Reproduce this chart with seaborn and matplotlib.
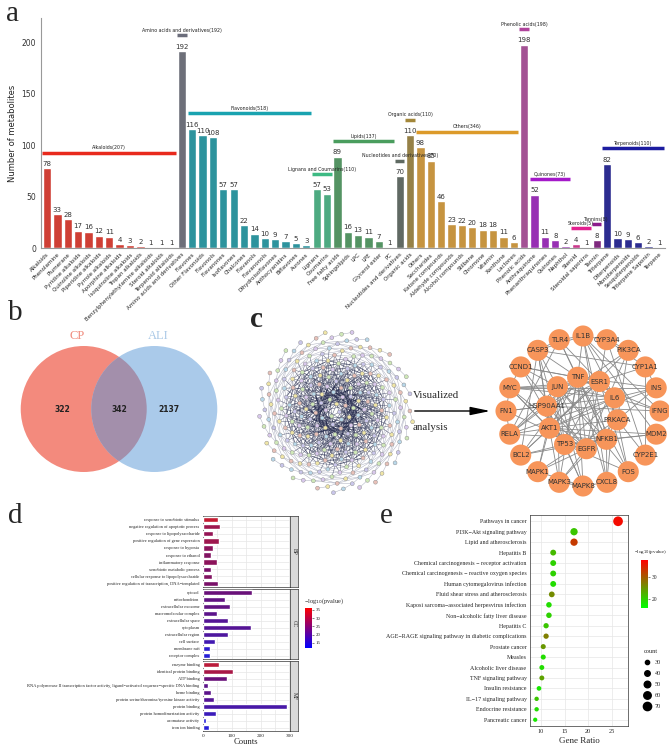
import numpy as np
import pandas as pd
import matplotlib
matplotlib.use('Agg')
import matplotlib.pyplot as plt
import seaborn as sns
from matplotlib.colors import LinearSegmentedColormap, Normalize
from matplotlib.cm import ScalarMappable
from matplotlib.patches import Circle
from matplotlib.lines import Line2D
from matplotlib.collections import LineCollection

# ---------------- data: panel a (metabolite classes)
class_names = ['Alkaloids', 'Amino acids and derivatives', 'Flavonoids', 'Lignans and Coumarins',
               'Lipids', 'Nucleotides and derivatives', 'Organic acids', 'Others',
               'Phenolic acids', 'Quinones', 'Steroids', 'Tannins', 'Terpenoids']
class_colors = ['#e8291c', '#6b6d7b', '#1aa3b0', '#3dba83', '#4a9d5e', '#5f6a62', '#a3873a',
                '#dc9a2a', '#b0449c', '#a419c9', '#e2218f', '#8c1b8c', '#1c1ca0']
sub_names = [
    ['Alkaloids', 'Phenolamine', 'Plumerane', 'Pyridine alkaloids', 'Quinoline alkaloids',
     'Piperidine alkaloids', 'Pyrrole alkaloids', 'Aporphine alkaloids', 'Isoquinoline alkaloids',
     'Tropan alkaloids', 'Benzylphenylethylamine alkaloids', 'Steroid alkaloids', 'Terpenoid alkaloids'],
    ['Amino acids and derivatives'],
    ['Flavones', 'Other Flavonoids', 'Flavonols', 'Flavanones', 'Isoflavones', 'Chalcones',
     'Flavanols', 'Flavanonols', 'Dihydroisoflavones', 'Anthocyanidins', 'Biflavones', 'Aurones'],
    ['Lignans', 'Coumarins'],
    ['Free fatty acids', 'Sphingolipids', 'LPC', 'LPE', 'Glycerol ester', 'PC'],
    ['Nucleotides and derivatives'],
    ['Organic acids'],
    ['Others', 'Saccharides', 'Ketone compounds', 'Aldehyde compounds', 'Alcohol compounds',
     'Stilbene', 'Chromone', 'Vitamin', 'Xanthone', 'Lactones'],
    ['Phenolic acids'],
    ['Anthraquinone', 'Phenanthraquinones', 'Quinones', 'Naphthol'],
    ['Steroid', 'Steroidal saponins'],
    ['Tannin'],
    ['Triterpene', 'Diterpenoids', 'Monoterpenoids', 'Sesquiterpenoids', 'Triterpene Saponin', 'Terpene'],
]
sub_counts = [
    [78, 33, 28, 17, 16, 12, 11, 4, 3, 2, 1, 1, 1],
    [192],
    [116, 110, 108, 57, 57, 22, 14, 10, 9, 7, 5, 3],
    [57, 53],
    [89, 16, 13, 11, 7, 1],
    [70],
    [110],
    [98, 85, 46, 23, 22, 20, 18, 18, 11, 6],
    [198],
    [52, 11, 8, 2],
    [4, 1],
    [8],
    [82, 10, 9, 6, 2, 1],
]
class_totals = [207, 192, 518, 110, 137, 70, 110, 346, 198, 73, 5, 8, 110]

# ---------------- data: panel b (Venn)
venn_sets = ['CP', 'ALI']
venn_counts = [322, 342, 2137]

# ---------------- data: panel c (hub genes)
outer_genes = ['IL1B', 'CYP3A4', 'PIK3CA', 'CYP1A1', 'INS', 'IFNG', 'MDM2', 'CYP2E1', 'FOS', 'CXCL8',
               'MAPK8', 'MAPK3', 'MAPK1', 'BCL2', 'RELA', 'FN1', 'MYC', 'CCND1', 'CASP3', 'TLR4']
inner_genes = ['TNF', 'ESR1', 'IL6', 'PRKACA', 'NFKB1', 'EGFR', 'TP53', 'AKT1', 'HSP90AA1', 'JUN']
gene_links = {
    'TNF': ['IL6', 'AKT1', 'JUN', 'EGFR', 'TP53', 'NFKB1', 'IL1B', 'TLR4', 'CASP3', 'MAPK8', 'RELA',
            'IFNG', 'CXCL8', 'FOS', 'BCL2', 'INS', 'MAPK3', 'CCND1'],
    'ESR1': ['AKT1', 'EGFR', 'TP53', 'JUN', 'MYC', 'CCND1', 'FOS', 'HSP90AA1', 'CYP1A1', 'CYP3A4', 'BCL2'],
    'IL6': ['AKT1', 'JUN', 'TP53', 'IL1B', 'CXCL8', 'IFNG', 'TLR4', 'RELA', 'NFKB1', 'INS', 'MYC', 'FN1'],
    'PRKACA': ['AKT1', 'MAPK1', 'MAPK3', 'PIK3CA', 'FOS', 'CYP2E1', 'INS'],
    'NFKB1': ['RELA', 'IL1B', 'TLR4', 'BCL2', 'CXCL8', 'JUN', 'TP53', 'AKT1', 'MDM2'],
    'EGFR': ['AKT1', 'PIK3CA', 'MAPK1', 'MAPK3', 'TP53', 'MYC', 'HSP90AA1', 'FN1', 'CCND1', 'JUN'],
    'TP53': ['MDM2', 'BCL2', 'CASP3', 'MYC', 'CCND1', 'AKT1', 'JUN', 'HSP90AA1', 'MAPK8', 'FOS'],
    'AKT1': ['PIK3CA', 'MAPK1', 'MAPK3', 'HSP90AA1', 'CASP3', 'BCL2', 'MDM2', 'INS', 'RELA', 'MYC'],
    'HSP90AA1': ['PIK3CA', 'CASP3', 'FN1', 'RELA', 'IFNG', 'MAPK8'],
    'JUN': ['FOS', 'MAPK8', 'MAPK1', 'MAPK3', 'MYC', 'CCND1', 'CASP3', 'RELA'],
    'IL1B': ['TLR4', 'CXCL8', 'IFNG', 'CASP3', 'CYP3A4', 'MDM2'],
    'CYP3A4': ['CYP1A1', 'CYP2E1', 'PIK3CA'],
    'CYP1A1': ['CYP2E1', 'INS', 'CASP3'],
    'MAPK8': ['MAPK3', 'MAPK1', 'CXCL8'],
    'MYC': ['CCND1', 'FN1', 'INS'],
    'CASP3': ['BCL2', 'TLR4'],
    'RELA': ['TLR4', 'FN1'],
}

# ---------------- data: panel d (GO enrichment)
go_bp = ['response to xenobiotic stimulus', 'negative regulation of apoptotic process',
         'response to lipopolysaccharide', 'positive regulation of gene expression', 'response to hypoxia',
         'response to ethanol', 'inflammatory response', 'xenobiotic metabolic process',
         'cellular response to lipopolysaccharide', 'positive regulation of transcription, DNA\u2212templated']
go_bp_counts = [52, 59, 35, 54, 35, 29, 48, 27, 31, 53]
go_bp_logp = [33, 29, 28, 29, 27, 26, 27, 25, 26, 25]
go_cc = ['cytosol', 'mitochondrion', 'extracellular exosome', 'macromolecular complex',
         'extracellular space', 'cytoplasm', 'extracellular region', 'cell surface', 'membrane raft',
         'receptor complex']
go_cc_counts = [171, 76, 95, 50, 86, 165, 86, 43, 25, 23]
go_cc_logp = [23, 22, 22, 21, 20, 20, 19, 17, 14, 13]
go_mf = ['enzyme binding', 'identical protein binding', 'ATP binding',
         'RNA polymerase II transcription factor activity, ligand\u2212activated sequence\u2212specific DNA binding',
         'heme binding', 'protein serine/threonine/tyrosine kinase activity', 'protein binding',
         'protein homodimerization activity', 'aromatase activity', 'iron ion binding']
go_mf_counts = [55, 105, 82, 18, 27, 38, 290, 45, 12, 20]
go_mf_logp = [32, 30, 23, 21, 21, 20, 18, 16, 13, 13]

# ---------------- data: panel e (KEGG enrichment)
kegg_terms = ['Pathways in cancer', 'PI3K\u2212Akt signaling pathway', 'Lipid and atherosclerosis',
              'Hepatitis B', 'Chemical carcinogenesis \u2212 receptor activation',
              'Chemical carcinogenesis \u2212 reactive oxygen species', 'Human cytomegalovirus infection',
              'Fluid shear stress and atherosclerosis', 'Kaposi sarcoma\u2212associated herpesvirus infection',
              'Non\u2212alcoholic fatty liver disease', 'Hepatitis C',
              'AGE\u2212RAGE signaling pathway in diabetic complications', 'Prostate cancer', 'Measles',
              'Alcoholic liver disease', 'TNF signaling pathway', 'Insulin resistance',
              'IL\u221217 signaling pathway', 'Endocrine resistance', 'Pancreatic cancer']
kegg_ratio = [26.3, 17.0, 17.0, 12.6, 12.6, 12.6, 12.6, 12.3, 11.7, 11.7, 11.1, 11.1, 10.5, 10.5,
              10.2, 10.2, 9.6, 9.1, 9.1, 8.8]
kegg_count = [90, 58, 58, 43, 43, 43, 43, 42, 40, 40, 38, 38, 36, 36, 35, 35, 33, 31, 31, 30]
kegg_logp = [37, 21, 33, 22, 20, 20, 19, 26, 19, 20, 21, 27, 25, 19, 19, 24, 18, 21, 19, 18]

# ---------------- figure
W, H = 669, 747
sns.set_style('white')
plt.rcParams['font.family'] = ['DejaVu Sans']
SERIF = 'Liberation Serif'

fig = plt.figure(figsize=(W / 100, H / 100), dpi=100)


def box(x0, y0, x1, y1):
    return [x0 / W, 1 - y1 / H, (x1 - x0) / W, (y1 - y0) / H]


def panel_label(x, y, s, weight='normal'):
    fig.text(x / W, 1 - y / H, s, family=SERIF, fontsize=21, va='top', ha='left', fontweight=weight)


# ---------------- panel a
rows = []
for cname, names, counts in zip(class_names, sub_names, sub_counts):
    for n, c in zip(names, counts):
        rows.append((n, c, cname))
df_a = pd.DataFrame(rows, columns=['name', 'count', 'cls'])

ax = fig.add_axes(box(41, 18, 665, 248))
sns.barplot(data=df_a, x='name', y='count', hue='cls', order=list(df_a['name']),
            palette=dict(zip(class_names, class_colors)), dodge=False, legend=False,
            width=0.8, ax=ax)
ax.set_xlim(-0.58, len(df_a) - 0.42)
ax.set_ylim(0, 224)
ax.set_yticks([0, 50, 100, 150, 200])
ax.tick_params(axis='y', labelsize=5.5, length=2, color='#999999', labelcolor='#333333', pad=1.5)
ax.tick_params(axis='x', labelsize=4.0, length=2, color='#999999', labelcolor='#222222', pad=1)
ax.set_xticks(range(len(df_a)))
ax.set_xticklabels(df_a['name'], rotation=45, ha='right', rotation_mode='anchor')
ax.set_xlabel('')
ax.set_ylabel('Number of metabolites', fontsize=6, color='#222222', labelpad=3)
for s in ['top', 'right']:
    ax.spines[s].set_visible(False)
for s in ['left', 'bottom']:
    ax.spines[s].set_color('#999999')
    ax.spines[s].set_linewidth(0.8)
for i, c in enumerate(df_a['count']):
    ax.text(i, c + 1.2, str(c), ha='center', va='bottom', fontsize=5, color='#333333')

start = 0
for cname, names, counts, tot, col in zip(class_names, sub_names, sub_counts, class_totals, class_colors):
    end = start + len(names) - 1
    yl = max(counts) + 15
    ax.hlines(yl, start - 0.45, end + 0.45, color=col, lw=2.5)
    ax.text((start + end) / 2, yl + 2.5, f'{cname}({tot})', ha='center', va='bottom',
            fontsize=3.4, color='#222222')
    start = end + 1

panel_label(6, 1, 'a')

# ---------------- panel b: Venn
axb = fig.add_axes(box(0, 320, 240, 490))
axb.set_xlim(-119 / 63, 121 / 63)
axb.set_ylim(-81 / 63, 89 / 63)
axb.axis('off')
cp = Circle((-0.56, 0), 1.0, facecolor='#f38a7d', edgecolor='none')
ali = Circle((0.56, 0), 1.0, facecolor='#aacaea', edgecolor='none')
axb.add_patch(cp)
axb.add_patch(ali)
inter = Circle((0.56, 0), 1.0, facecolor='#a38fab', edgecolor='none')
axb.add_patch(inter)
inter.set_clip_path(cp)
axb.text(-0.67, 1.16, venn_sets[0], color='#f08a7c', family=SERIF, fontsize=9, ha='center', va='center')
axb.text(0.63, 1.16, venn_sets[1], color='#a9c8e6', family=SERIF, fontsize=9, ha='center', va='center')
for xv, v in zip([-0.9, 0.0, 0.79], venn_counts):
    axb.text(xv, 0, str(v), fontsize=5.5, fontweight='bold', ha='center', va='center', color='#222222')
panel_label(8, 300, 'b')

# ---------------- panel c: networks
axc = fig.add_axes(box(240, 300, 669, 500))
axc.set_xlim(240, 669)
axc.set_ylim(500, 300)
axc.axis('off')

# left: overview network (sunflower layout, index-neighbour edges)
n_hair = 260
idx = np.arange(n_hair)
ang = idx * 2.39996
rad = 78 * np.sqrt((idx + 0.5) / n_hair)
hx = 336 + rad * np.cos(ang)
hy = 412 + rad * np.sin(ang) * 1.05
core, outer = [], []
for i in range(n_hair):
    steps = (1, 5, 8, 13, 21, 34, 55) if i < 110 else ((8, 13, 21) if i < 200 else (21,))
    for k in steps:
        j = i + k
        if j < n_hair:
            (core if i < 110 else outer).append([(hx[i], hy[i]), (hx[j], hy[j])])
axc.add_collection(LineCollection(outer, colors='#5a6080', linewidths=0.35, alpha=0.5))
axc.add_collection(LineCollection(core, colors='#1e2448', linewidths=0.4, alpha=0.65))
node_cols = ['#c9c6ea', '#cfe8b8', '#efe5a6', '#b9d8ea', '#d8c8ec', '#e8c0b8']
sns.scatterplot(x=hx, y=hy, hue=idx % 6, palette=node_cols, s=8, edgecolor='#888888',
                linewidth=0.3, legend=False, ax=axc, zorder=3)

axc.annotate('', xy=(493, 411), xytext=(412, 411),
             arrowprops=dict(arrowstyle='-|>,head_length=1.2,head_width=0.25', color='black', lw=1.0))
axc.text(413, 400, 'Visualized', family=SERIF, fontsize=7.8, ha='left', va='bottom')
axc.text(413, 423, 'analysis', family=SERIF, fontsize=7.8, ha='left', va='top')

# right: hub genes network
pos = {}
for i, g in enumerate(outer_genes):
    a = np.deg2rad(90 - i * 360 / len(outer_genes))
    pos[g] = (583 + 77 * np.cos(a), 411 - 75 * np.sin(a))
for i, g in enumerate(inner_genes):
    a = np.deg2rad(97 - i * 360 / len(inner_genes))
    pos[g] = (582 + 36 * np.cos(a), 413 - 36 * np.sin(a))
hub_segs = [[pos[a], pos[b]] for a, lst in gene_links.items() for b in lst]
axc.add_collection(LineCollection(hub_segs, colors='#8a8a8a', linewidths=0.6, zorder=2))
genes = outer_genes + inner_genes
sns.scatterplot(x=[pos[g][0] for g in genes], y=[pos[g][1] for g in genes], s=230,
                color='#f7955a', edgecolor='none', legend=False, ax=axc, zorder=4)
for g in genes:
    axc.text(pos[g][0], pos[g][1], g, fontsize=5.0, ha='center', va='center', color='#333333', zorder=5)
panel_label(250, 306, 'c', 'bold')

# ---------------- panel d: GO bars
cmap_d = LinearSegmentedColormap.from_list('bluered', ['#0000ff', '#ff0000'])
norm_d = Normalize(vmin=12, vmax=36)
facets = [('BP', go_bp, go_bp_counts, go_bp_logp, 516, 587),
          ('CC', go_cc, go_cc_counts, go_cc_logp, 589, 659),
          ('MF', go_mf, go_mf_counts, go_mf_logp, 661, 731)]
for k, (lab, terms, cnts, lp, y0, y1) in enumerate(facets):
    axd = fig.add_axes(box(203, y0, 290, y1))
    cols = [cmap_d(norm_d(v)) for v in lp]
    sns.barplot(x=cnts, y=terms, hue=terms, palette=cols, legend=False, orient='h',
                width=0.75, ax=axd, zorder=3)
    axd.set_xlim(0, 302)
    axd.set_xticks([0, 100, 200, 300])
    axd.set_xticks([50, 150, 250], minor=True)
    axd.grid(True, which='both', color='#e6e6e6', lw=0.5, zorder=0)
    axd.set_axisbelow(True)
    axd.tick_params(axis='y', labelsize=3.2, length=1.5, pad=1, width=0.4)
    axd.tick_params(axis='x', which='major', labelsize=3.8, length=1.5 if k == 2 else 0, pad=0.5, width=0.4)
    axd.tick_params(axis='x', which='minor', length=0)
    for t in axd.get_yticklabels() + axd.get_xticklabels():
        t.set_family(SERIF)
    if k < 2:
        axd.set_xticklabels([])
    for s in axd.spines.values():
        s.set_color('#333333')
        s.set_linewidth(0.5)
    axd.set_ylabel('')
    axd.set_xlabel('')
    axs = fig.add_axes(box(290, y0, 298, y1))
    axs.set_facecolor('#d9d9d9')
    axs.set_xticks([])
    axs.set_yticks([])
    for s in axs.spines.values():
        s.set_color('#333333')
        s.set_linewidth(0.5)
    axs.text(0.5, 0.5, lab, rotation=-90, ha='center', va='center', fontsize=4, family=SERIF,
             transform=axs.transAxes)
fig.text(246 / W, 1 - 742.5 / H, 'Counts', family=SERIF, fontsize=6.2, ha='center', va='center')
cax_d = fig.add_axes(box(305, 608, 312, 648))
cb = fig.colorbar(ScalarMappable(norm=norm_d, cmap=cmap_d), cax=cax_d)
cb.set_ticks([15, 20, 25, 30, 35])
cb.outline.set_visible(False)
cax_d.tick_params(labelsize=3.5, length=1.5, width=0.4, pad=1)
for t in cax_d.get_yticklabels():
    t.set_family(SERIF)
fig.text(304 / W, 1 - 601 / H, '\u2212log$_{10}$(pvalue)', family=SERIF, fontsize=4.5, ha='left', va='center')
panel_label(8, 503, 'd')

# ---------------- panel e: KEGG dots
cmap_e = LinearSegmentedColormap.from_list('greenred', ['#00ff00', '#ff0000'])
norm_e = Normalize(vmin=16, vmax=38)
df_e = pd.DataFrame({'term': kegg_terms, 'ratio': kegg_ratio, 'count': kegg_count,
                     'logp': kegg_logp, 'row': range(len(kegg_terms))})
axe = fig.add_axes(box(530, 515, 628, 726))
size_rng = (8, 50)
size_norm = (28, 92)
sns.scatterplot(data=df_e, x='ratio', y='row', hue='logp', palette=cmap_e, hue_norm=norm_e,
                size='count', sizes=size_rng, size_norm=size_norm, edgecolor='none',
                legend=False, ax=axe, zorder=3)
axe.set_ylim(len(kegg_terms) - 0.4, -0.6)
axe.set_xlim(7.7, 28.4)
axe.set_yticks(range(len(kegg_terms)))
axe.set_yticklabels(kegg_terms)
axe.set_xticks([10, 15, 20, 25])
axe.grid(True, color='#e6e6e6', lw=0.5, zorder=0)
axe.set_axisbelow(True)
axe.tick_params(axis='y', labelsize=4.3, length=1.5, pad=1, width=0.4)
axe.tick_params(axis='x', labelsize=4.5, length=1.5, pad=1, width=0.4)
for t in axe.get_yticklabels() + axe.get_xticklabels():
    t.set_family(SERIF)
for s in axe.spines.values():
    s.set_color('#333333')
    s.set_linewidth(0.5)
axe.set_ylabel('')
axe.set_xlabel('Gene Ratio', family=SERIF, fontsize=6.5, labelpad=2)

cax_e = fig.add_axes(box(641, 560, 648, 608))
cb2 = fig.colorbar(ScalarMappable(norm=norm_e, cmap=cmap_e), cax=cax_e)
cb2.set_ticks([20, 30])
cb2.outline.set_visible(False)
cax_e.tick_params(labelsize=4, length=1.5, width=0.4, pad=1)
for t in cax_e.get_yticklabels():
    t.set_family(SERIF)
fig.text(634 / W, 1 - 552 / H, '\u2212log$_{10}$(pvalue)', family=SERIF, fontsize=3.7, ha='left', va='center')

legend_counts = [30, 40, 50, 60, 70]
handles = []
for c in legend_counts:
    s = size_rng[0] + (c - size_norm[0]) / (size_norm[1] - size_norm[0]) * (size_rng[1] - size_rng[0])
    handles.append(Line2D([], [], marker='o', ls='', color='black', markersize=np.sqrt(s)))
leg = fig.legend(handles, [str(c) for c in legend_counts], title='count',
                 loc='upper left', bbox_to_anchor=(636 / W, 1 - 645 / H), frameon=False,
                 prop={'family': SERIF, 'size': 4.5}, title_fontproperties={'family': SERIF, 'size': 4.5},
                 labelspacing=0.9, handletextpad=0.3, borderpad=0.2)
panel_label(380, 503, 'e')

fig.savefig('out.png', dpi=100)
